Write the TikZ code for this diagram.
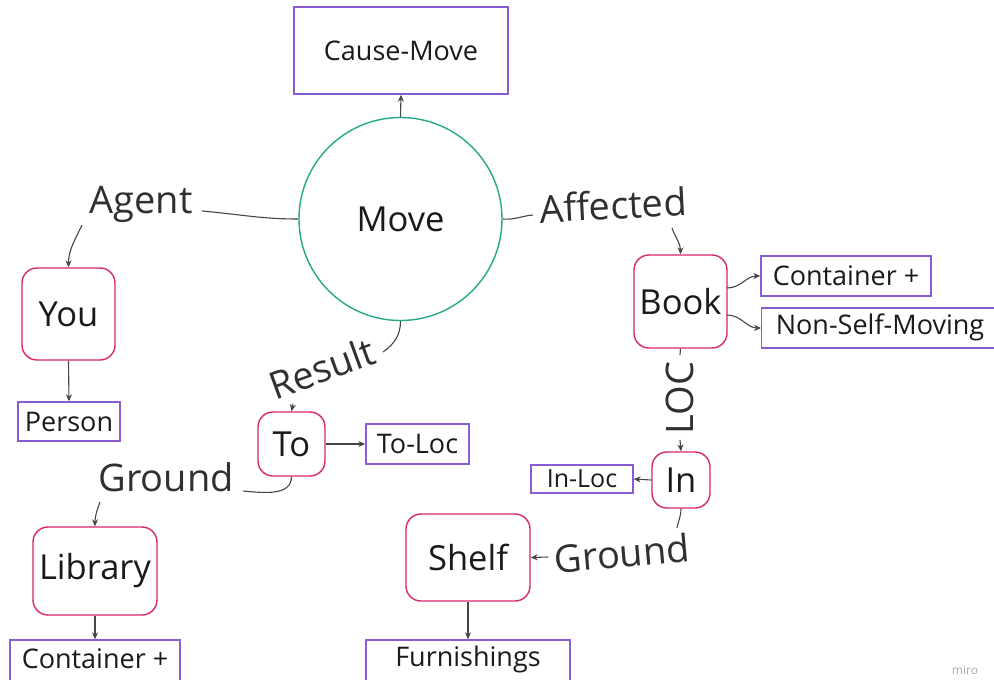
\documentclass[tikz,border=0pt]{standalone}
\usepackage{fontspec}
\setmainfont{Open Sans}
\usetikzlibrary{arrows.meta}

\definecolor{framepink}{RGB}{216,38,112}
\definecolor{framepurple}{RGB}{138,92,212}
\definecolor{frameteal}{RGB}{36,168,140}
\definecolor{linkgrey}{RGB}{70,70,70}
\definecolor{inkdark}{RGB}{26,26,26}
\definecolor{labelgrey}{RGB}{48,48,48}
\definecolor{markgrey}{RGB}{170,170,170}

\tikzset{
  entity/.style={draw=framepink, line width=1.4pt, rounded corners=15pt,
    text=inkdark, font=\fontsize{34.5}{38}\selectfont, inner sep=0pt},
  category/.style={draw=framepurple, line width=1.4pt, text=inkdark,
    font=\fontsize{27}{32}\selectfont, inner sep=0pt},
  catlabel/.style={text=inkdark, font=\fontsize{27}{32}\selectfont, inner sep=0pt},
  role/.style={text=labelgrey, font=\fontsize{38}{42}\selectfont, inner sep=0pt},
  link/.style={draw=linkgrey, line width=1.1pt},
  arr/.style={link, -{Stealth[length=7pt,width=6pt]}},
}

\begin{document}
\begin{tikzpicture}[x=1pt,y=1pt]
  \clip (0,0) rectangle (994,-680);
  \fill[white] (0,0) rectangle (994,-680);

  % central event
  \node[circle, draw=frameteal, line width=1.4pt, minimum size=203pt, inner sep=0pt,
        text=inkdark, font=\fontsize{34.5}{38}\selectfont] (move) at (400.5,-219) {Move};
  \node[category, minimum width=214pt, minimum height=87pt] (cm) at (401,-50.5) {Cause-Move};

  % agent branch
  \node[role] (agent) at (141,-204) {Agent};
  \node[entity, minimum width=93pt, minimum height=92pt] (you) at (68.5,-314) {You};
  \node[category, minimum width=102pt, minimum height=39pt] (person) at (69,-421.5) {Person};

  % result branch
  \node[role, rotate=20] (result) at (322,-368) {Result};
  \node[entity, minimum width=67pt, minimum height=64pt] (to) at (291.5,-444) {To};
  \node[category, minimum width=103pt, minimum height=40pt] (toloc) at (417.5,-444) {To-Loc};
  \node[role] (groundL) at (166,-477) {Ground};
  \node[entity, minimum width=124pt, minimum height=88pt] (library) at (95,-571) {Library};
  \node[category, minimum width=170pt, minimum height=46pt] (contL) at (95,-663) {};
  \node[catlabel] (contLt) at (95,-659) {Container +};

  % affected branch
  \node[role, rotate=3] (affected) at (613,-205) {Affected};
  \node[entity, minimum width=93pt, minimum height=93pt] (book) at (680.5,-301.5) {Book};
  \node[category, minimum width=170pt, minimum height=40pt] (contR) at (846,-276) {Container +};
  \node[category, minimum width=244pt, minimum height=40pt, anchor=west] (nsm) at (761,-328) {};
  \node[catlabel] (nsmt) at (880,-327) {Non-Self-Moving};
  \node[role, rotate=90] (loc) at (680,-398) {LOC};
  \node[entity, minimum width=58pt, minimum height=56pt] (in) at (681,-480) {In};
  \node[category, minimum width=102pt, minimum height=28pt,
        font=\fontsize{25}{29}\selectfont] (inloc) at (582,-479) {In-Loc};
  \node[role, rotate=5] (groundR) at (622,-553) {Ground};
  \node[entity, minimum width=124pt, minimum height=87pt] (shelf) at (468,-557.5) {Shelf};
  \node[category, minimum width=204pt, minimum height=46pt] (furn) at (468,-663) {};
  \node[catlabel] (furnt) at (468,-659) {Furnishings};

  % loose ends of the role connectors
  \coordinate (a1) at (202,-211);
  \coordinate (a2) at (82,-225);
  \coordinate (r1) at (383,-352);
  \coordinate (r2) at (293,-404);
  \coordinate (g1) at (243,-491);
  \coordinate (g2) at (100,-502);
  \coordinate (f1) at (533,-215);
  \coordinate (f2) at (672,-228);
  \coordinate (b1) at (727,-288);
  \coordinate (b2) at (727,-315);
  \coordinate (l1) at (680,-355);
  \coordinate (l2) at (680,-440);
  \coordinate (n1) at (677,-528);
  \coordinate (n2) at (548,-557);

  % connectors
  \draw[arr] (move.north) -- (cm.south);

  \draw[link] (move.west) to[out=180,in=-5] (a1);
  \draw[arr] (a2) to[out=245,in=90] (you.north);
  \draw[arr] (you.south) -- (person.north);

  \draw[link] (move.south) to[out=-90,in=35] (r1);
  \draw[arr] (r2) -- (to.north);
  \draw[arr] (to.east) -- (toloc.west);
  \draw[link] (to.south) to[out=-90,in=-5] (g1);
  \draw[arr] (g2) to[out=250,in=90] (library.north);
  \draw[arr] (library.south) -- (contL.north);

  \draw[link] (move.east) to[out=-5,in=185] (f1);
  \draw[arr] (f2) to[out=-70,in=90] (book.north);
  \draw[arr] (b1) to[out=0,in=180] (contR.west);
  \draw[arr] (b2) to[out=0,in=180] (nsm.west);
  \draw[link] (book.south) -- (l1);
  \draw[arr] (l2) -- (in.north);
  \draw[arr] (in.west) -- (inloc.east);
  \draw[link] (in.south) to[out=-90,in=80] (n1);
  \draw[arr] (n2) -- (shelf.east);
  \draw[arr] (shelf.south) -- (furn.north);

  % watermark
  \node[text=markgrey, font=\fontsize{12}{14}\selectfont, inner sep=0pt] (mark) at (965,-670) {miro};
\end{tikzpicture}
\end{document}
